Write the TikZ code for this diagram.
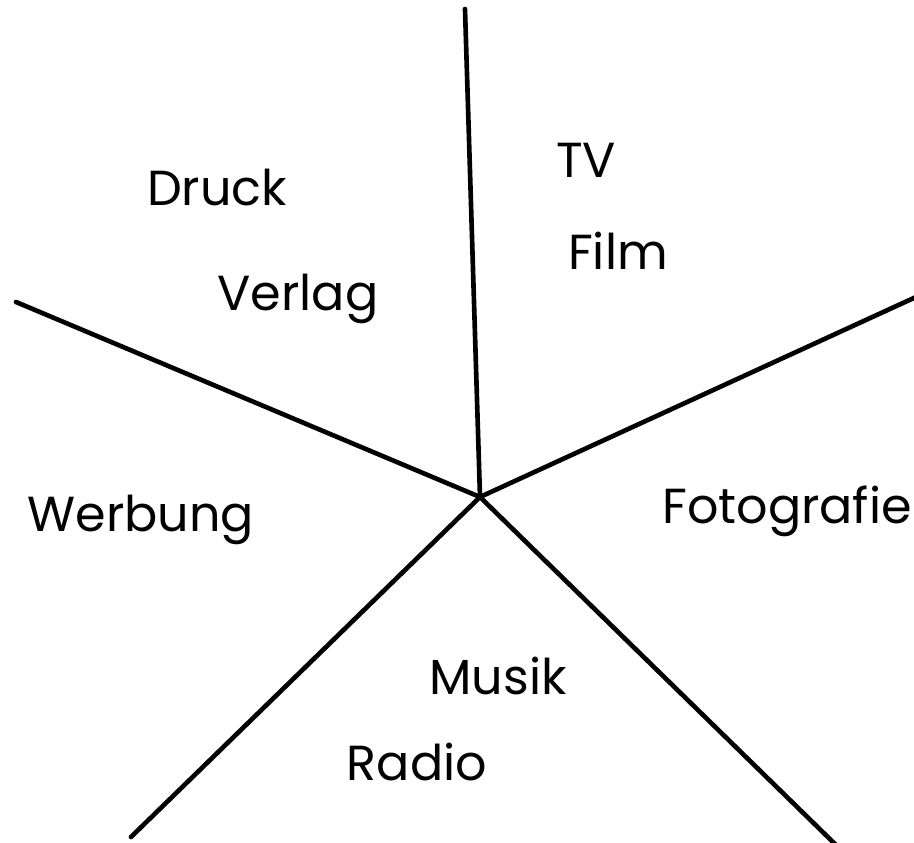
\documentclass[tikz,border=0pt]{standalone}
\usepackage{fontspec}
\setmainfont{Poppins}
\usepackage{tikz}

\begin{document}
\begin{tikzpicture}[x=0.025cm, y=-0.025cm]
		\useasboundingbox (0, 0) rectangle (914, 842);
		\tikzset{spoke/.style={line width=3.3pt, line cap=round}, field/.style={anchor=base, inner sep=0pt, font=\fontsize{35}{40}\selectfont}}
		%%
		\coordinate (hub) at (480, 497);
		\coordinate (n) at (465, 9);
		\coordinate (ne) at (916, 297);
		\coordinate (nw) at (16, 302);
		\coordinate (sw) at (131, 837);
		\coordinate (se) at (836, 845);
		\foreach \e in {n, ne, nw, sw, se}
			\draw[spoke] (hub) -- (\e);
		%%
		\node[field] (druck) at (217, 205) {Druck};
		\node[field] (verlag) at (298, 310) {Verlag};
		\node[field] (tv) at (586, 177) {TV};
		\node[field] (film) at (618, 269) {Film};
		\node[field] (werbung) at (141, 531) {Werbung};
		\node[field] (foto) at (787, 523) {Fotografie};
		\node[field] (musik) at (498, 694) {Musik};
		\node[field] (radio) at (417, 780) {Radio};
	\end{tikzpicture}
\end{document}
